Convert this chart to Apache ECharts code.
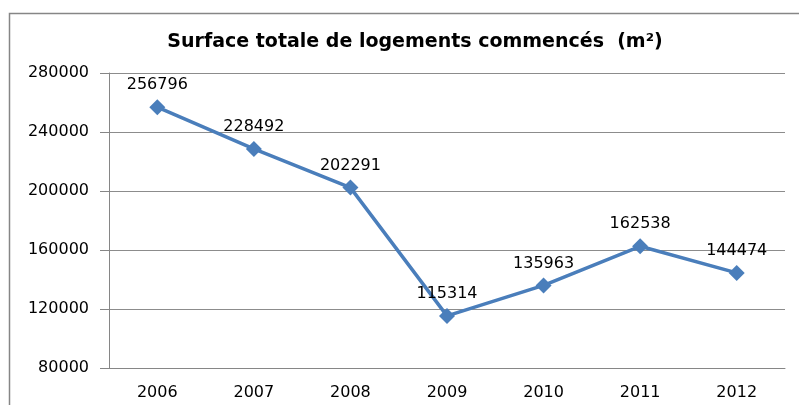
<!DOCTYPE html>
<html lang="fr">
  <head>
    <meta charset="UTF-8" />
    <script src="https://cdn.jsdelivr.net/npm/echarts@6/dist/echarts.min.js"></script>
    <title>Surface totale de logements commencés</title>
    <style>
      html,
      body,
      #chart {
        width: 100%;
        height: 100%;
        margin: 0;
        padding: 0;
        overflow: hidden;
        background: #fff;
      }
    </style>
  </head>
  <body>
    <div id="chart"></div>
    <script>
      const years = ["2006", "2007", "2008", "2009", "2010", "2011", "2012"];
      const surface = [256796, 228492, 202291, 115314, 135963, 162538, 144474];
      const yTicks = [80000, 120000, 160000, 200000, 240000, 280000];

      const font = "'DejaVu Sans', sans-serif";
      const myChart = echarts.init(document.getElementById("chart"));
      const option = {
        animation: false,
        backgroundColor: "#fff",
        title: {
          text: "Surface totale de logements commencés  (m²)",
          left: 410,
          top: 28,
          textAlign: "center",
          textStyle: {
            fontFamily: font,
            fontSize: 19,
            fontWeight: "bold",
            color: "#000",
          },
        },
        graphic: [
          {
            type: "rect",
            shape: { x: 9.5, y: 13.5, width: 820, height: 420 },
            style: { fill: "none", stroke: "#868686", lineWidth: 1.5 },
            silent: true,
          },
        ],
        grid: { left: 109, right: 14, top: 73, bottom: 37 },
        xAxis: {
          type: "category",
          data: years,
          boundaryGap: true,
          axisLine: { lineStyle: { color: "#868686" } },
          axisTick: { length: 6, lineStyle: { color: "#868686" } },
          axisLabel: { color: "#000", fontFamily: font, fontSize: 16, margin: 17 },
        },
        yAxis: {
          type: "value",
          min: yTicks[0],
          max: yTicks[yTicks.length - 1],
          interval: 40000,
          axisLine: { show: true, lineStyle: { color: "#868686" } },
          axisTick: { show: true, length: 9, lineStyle: { color: "#868686" } },
          splitLine: { lineStyle: { color: "#8c8c8c" } },
          axisLabel: {
            color: "#000",
            fontFamily: font,
            fontSize: 16,
            margin: 20,
            formatter: (v) => String(v),
          },
        },
        series: [
          {
            type: "line",
            data: surface,
            symbol: "diamond",
            symbolSize: 16,
            itemStyle: { color: "#4A7EBB" },
            lineStyle: { color: "#4A7EBB", width: 3.5 },
            label: {
              show: true,
              position: "top",
              distance: 6,
              color: "#000",
              fontFamily: font,
              fontSize: 16,
            },
          },
        ],
      };
      myChart.setOption(option);
    </script>
  </body>
</html>
